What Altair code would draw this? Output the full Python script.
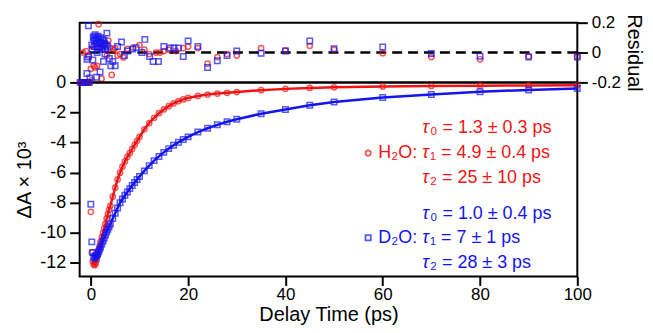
import altair as alt
import pandas as pd

FONT = "Liberation Sans"
RED = "#f01414"
BLUE = "#1414f0"

# ---------------- data ----------------
t_main = [-2.2, -1.8, -1.4, -1.0, -0.6, -0.3, 0.0, 0.2, 0.4, 0.6, 0.8, 1.0, 1.2, 1.4, 1.6, 1.8, 2.0,
          2.25, 2.5, 2.75, 3.0, 3.25, 3.5, 3.75, 4.0, 4.5, 5.0, 5.5, 6.0, 6.5, 7.0, 7.5, 8.0, 8.5, 9.0, 9.5, 10,
          11, 12, 13, 14, 15, 16, 17, 18, 19, 20, 22, 24, 26, 28, 30, 35, 40, 45, 50, 60, 70, 80, 90, 100]

h2o_main = [0.0, 0.0, 0.0, 0.0, 0.0, 0.0, -8.6, -11.3, -11.9, -12.1, -12.15, -12.0, -11.8, -11.5, -11.2, -10.9, -10.6,
            -10.3, -10.0, -9.7, -9.4, -9.05, -8.75, -8.45, -8.2, -7.6, -7.0, -6.45, -6.0, -5.6, -5.25, -4.95, -4.7, -4.42, -4.15, -3.88, -3.62,
            -3.12, -2.7, -2.35, -2.05, -1.8, -1.58, -1.4, -1.25, -1.13, -1.03, -0.9, -0.81, -0.74, -0.69, -0.64,
            -0.52, -0.43, -0.37, -0.33, -0.27, -0.24, -0.22, -0.2, -0.19]

d2o_main = [0.0, 0.0, 0.0, 0.0, 0.0, 0.0, -8.1, -10.6, -11.3, -11.6, -11.7, -11.6, -11.5, -11.4, -11.25, -11.1, -10.95,
            -10.75, -10.55, -10.35, -10.15, -9.95, -9.77, -9.6, -9.42, -9.05, -8.7, -8.35, -8.0, -7.75, -7.5, -7.28, -7.06, -6.85, -6.65, -6.45, -6.25,
            -5.88, -5.53, -5.2, -4.92, -4.65, -4.4, -4.18, -3.98, -3.8, -3.62, -3.3, -3.05, -2.82, -2.62, -2.45,
            -2.08, -1.8, -1.52, -1.3, -1.0, -0.8, -0.62, -0.5, -0.4]

t_res_h2o = [-1.6, -1.0, -0.4, 0.0, 0.2, 0.4, 0.6, 0.9, 1.1, 1.3, 1.6, 1.8, 2.0, 2.2, 2.5, 2.8, 3.0, 3.3, 3.6, 4.0,
             4.3, 4.7, 5.0, 5.5, 6.0, 6.7, 7.5, 8.7, 10, 11, 12, 13.4, 14.2, 15, 16, 17.5, 19, 20, 22, 24,
             26, 28, 30, 35, 40, 45, 50, 60, 70, 80, 90, 100]
res_h2o = [0.0, 0.01, -0.02, -0.11, -0.185, 0.04, -0.09, -0.1, 0.06, -0.09, 0.19, 0.03, 0.07, -0.175, 0.02, 0.05, 0.06, -0.02, 0.08, 0.03,
           -0.15, 0.02, 0.03, -0.02, -0.01, -0.033, 0.025, 0.033, 0.05, 0.02, -0.01, 0.0, 0.0, 0.01, 0.02, 0.01, 0.03, 0.04, 0.03, -0.075,
           -0.03, -0.01, -0.02, 0.03, 0.015, 0.045, 0.02, -0.004, -0.03, -0.045, -0.025, -0.03]

t_res_d2o = [-0.5, -0.8, -0.5, -0.8, -0.2, 0.2, 0.3, 0.4, 0.5, 0.6, 0.7, 0.8, 0.9, 1.0, 1.1, 1.2, 1.2, 1.3, 1.4, 1.5,
             1.6, 1.7, 1.8, 1.9, 2.0, 2.1, 2.2, 2.3, 2.4, 2.5, 2.6, 2.7, 2.8, 2.9, 3.0, 3.2, 3.3, 3.5, 3.8, 4.1,
             4.5, 5.0, 5.5, 6.3, 6.9, 7.5, 8.6, 9.3, 10.5, 11.1, 12.1, 12.8, 13.9, 15, 16.3, 17.1, 18, 19, 20, 22,
             24, 26, 28, 30, 35, 40, 45, 50, 60, 70, 80, 90, 100]
res_d2o = [0.18, -0.045, -0.03, -0.14, -0.17, 0.05, 0.02, -0.05, 0.1, 0.11, 0.08, 0.04, 0.12, 0.09, 0.06, 0.1, -0.165, 0.0, 0.04, 0.11,
           0.09, 0.06, 0.03, -0.13, 0.1, 0.07, 0.04, 0.02, 0.09, 0.05, -0.06, 0.08, 0.06, -0.01, 0.02, 0.05, 0.13, 0.04, -0.04, -0.088,
           -0.06, -0.088, 0.04, 0.07, -0.02, 0.01, 0.023, 0.033, 0.0, 0.088, -0.026, -0.06, -0.06, 0.04, 0.03, 0.03, 0.03, -0.026, 0.077, 0.04,
           -0.1, -0.055, -0.02, 0.01, -0.005, 0.01, 0.077, 0.025, 0.037, -0.006, -0.025, -0.03, -0.03]

x_ticks = [0, 20, 40, 60, 80, 100]
y_ticks = [-12, -10, -8, -6, -4, -2, 0]
res_ticks = [-0.2, 0, 0.2]

# annotation text (positions in data units)
ann_tau_x = 68.1
ann_lab_x = 59.1
ann_sym_x = 57.0
h2o_rows = [-3.05, -4.7, -6.36]
d2o_rows = [-8.74, -10.33, -12.0]
h2o_taus = ["\u2080 = 1.3 \u00b1 0.3 ps", "\u2081 = 4.9 \u00b1 0.4 ps", "\u2082 = 25 \u00b1 10 ps"]
d2o_taus = ["\u2080 = 1.0 \u00b1 0.4 ps", "\u2081 = 7 \u00b1 1 ps", "\u2082 = 28 \u00b1 3 ps"]

XDOM = [-2.3, 100]
YDOM = [-12.9, 0]
RDOM = [-0.2, 0.2]

main_h2o = pd.DataFrame({"t": t_main, "v": h2o_main})
main_d2o = pd.DataFrame({"t": t_main, "v": d2o_main})
rh = pd.DataFrame({"t": t_res_h2o, "r": res_h2o})
rd = pd.DataFrame({"t": t_res_d2o, "r": res_d2o})

xs = alt.Scale(domain=XDOM, nice=False, zero=False)
ys = alt.Scale(domain=YDOM, nice=False, zero=False)
rs = alt.Scale(domain=RDOM, nice=False, zero=False)

neg = "\u2212"
common = dict(labelFont=FONT, titleFont=FONT, labelColor="black", titleColor="black",
              titleFontWeight="normal", labelFontWeight="normal", grid=False, domain=False,
              tickColor="black", tickWidth=2)

# ---------------- residual panel ----------------
res_axis = alt.Axis(orient="right", values=res_ticks, title="Residual", titleAngle=90,
                    tickSize=10, labelPadding=4, titlePadding=3, labelFontSize=17, titleFontSize=20,
                    labelExpr="datum.value == 0 ? '0' : replace(format(datum.value, '.1f'), '" + neg + "', '-')",
                    **common)

rx = alt.X("t:Q", scale=xs, axis=None)

zero_rule = alt.Chart(pd.DataFrame({"r": [0.0]})).mark_rule(
    color="black", strokeWidth=2.5, strokeDash=[10, 6]).encode(
    y=alt.Y("r:Q", scale=rs, axis=res_axis))

res_red = alt.Chart(rh).mark_point(shape="circle", filled=False, color=RED, size=28, strokeWidth=1.5).encode(
    x=rx, y=alt.Y("r:Q", scale=rs, axis=res_axis))
res_blue = alt.Chart(rd).mark_point(shape="square", filled=False, color=BLUE, size=30, strokeWidth=1.5).encode(
    x=rx, y=alt.Y("r:Q", scale=rs, axis=res_axis))

res_panel = alt.layer(zero_rule, res_red, res_blue).properties(width=500, height=60)

# ---------------- main panel ----------------
x_axis = alt.Axis(values=x_ticks, title="Delay Time (ps)", tickSize=9, labelFontSize=17, titleFontSize=20,
                  labelPadding=1, titlePadding=2, labelFlush=False, **common)
y_axis = alt.Axis(values=y_ticks, title="\u0394A \u00d7 10\u00b3", tickSize=10, labelFontSize=18, titleFontSize=20,
                  labelPadding=4, titlePadding=5,
                  labelExpr="replace(format(datum.value, 'd'), '" + neg + "', '-')", **common)

mx = alt.X("t:Q", scale=xs, axis=x_axis)
my = alt.Y("v:Q", scale=ys, axis=y_axis)

line_red = alt.Chart(main_h2o).transform_filter("datum.t >= 0.4").mark_line(color=RED, strokeWidth=2.5).encode(x=mx, y=my)
line_blue = alt.Chart(main_d2o).transform_filter("datum.t >= 0.4").mark_line(color=BLUE, strokeWidth=2.5).encode(x=mx, y=my)
pts_red = alt.Chart(main_h2o).mark_point(shape="circle", filled=False, color=RED, size=28, strokeWidth=1.5).encode(x=mx, y=my)
pts_blue = alt.Chart(main_d2o).mark_point(shape="square", filled=False, color=BLUE, size=30, strokeWidth=1.5).encode(x=mx, y=my)

def ann_layers(rows, taus, label, color, shape):
    df_tau = pd.DataFrame({"t": [ann_tau_x] * 3, "v": rows, "txt": taus})
    tau = alt.Chart(df_tau).mark_text(text="\u03c4", fontStyle="italic", font=FONT, fontSize=18, color=color,
                                      align="left", baseline="middle").encode(x=mx, y=my)
    rest = alt.Chart(df_tau).mark_text(font=FONT, fontSize=18, color=color, align="left", baseline="middle",
                                       dx=8).encode(x=mx, y=my, text="txt:N")
    df_lab = pd.DataFrame({"t": [ann_lab_x], "v": [rows[1]], "txt": [label]})
    lab = alt.Chart(df_lab).mark_text(font=FONT, fontSize=18, color=color, align="left",
                                      baseline="middle").encode(x=mx, y=my, text="txt:N")
    df_sym = pd.DataFrame({"t": [ann_sym_x], "v": [rows[1]]})
    sym = alt.Chart(df_sym).mark_point(shape=shape, filled=False, color=color, size=28,
                                       strokeWidth=1.8).encode(x=mx, y=my)
    return [tau, rest, lab, sym]

ann = ann_layers(h2o_rows, h2o_taus, "H\u2082O:", RED, "circle") + \
      ann_layers(d2o_rows, d2o_taus, "D\u2082O:", BLUE, "square")

main_panel = alt.layer(line_red, pts_red, line_blue, pts_blue, *ann).properties(width=500, height=195)

chart = alt.vconcat(res_panel, main_panel, spacing=0, bounds="flush").properties(
    padding={"left": 5, "top": 4, "right": 0, "bottom": 0}
).configure_view(stroke="black", strokeWidth=2)

chart.save("out.html", embed_options={"renderer": "svg", "actions": False})
